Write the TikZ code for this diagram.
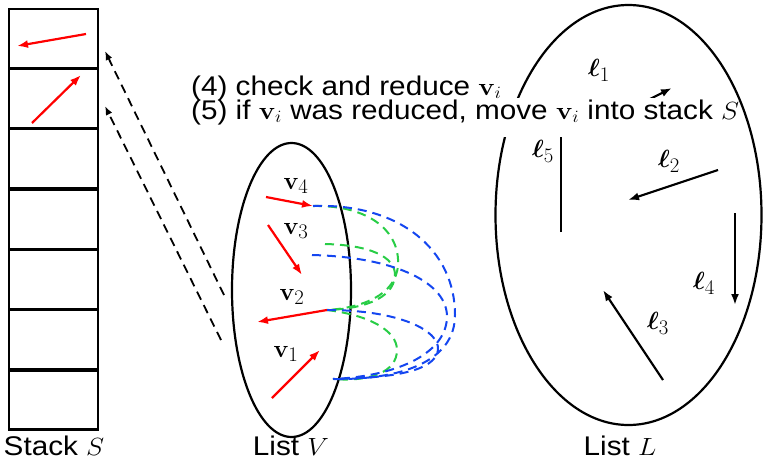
\documentclass[tikz,border=0pt]{standalone}
\usepackage{bm}
\usepackage[no-math]{fontspec}
\setmainfont{Liberation Sans}
\usetikzlibrary{arrows.meta,shapes.geometric}

\newcommand{\wide}[1]{\scalebox{1.1}[1]{#1}}

\tikzset{
  cell/.style={draw, line width=2.2pt, minimum width=89pt, minimum height=59pt, inner sep=0pt},
  vec/.style={red, line width=2.2pt, -{Latex[length=11pt,width=8pt]}},
  lvec/.style={black, line width=2.2pt, -{Latex[length=11pt,width=8pt]}},
  move/.style={black, line width=1.8pt, dash pattern=on 9pt off 6pt, -{Latex[length=9pt,width=7pt]}},
  bluelink/.style={draw={rgb,255:red,20;green,70;blue,240}, line width=2pt, dash pattern=on 9pt off 6pt},
  greenlink/.style={draw={rgb,255:red,40;green,205;blue,70}, line width=2pt, dash pattern=on 9pt off 6pt},
  set/.style={draw, ellipse, line width=2.2pt, inner sep=0pt},
  lab/.style={font=\fontsize{27}{27}\selectfont, inner sep=0pt},
  vlab/.style={font=\fontsize{28}{28}\selectfont, inner sep=0pt},
}

\begin{document}
\begin{tikzpicture}[x=1pt, y=-1pt]
\useasboundingbox (0,0) rectangle (763,461);

% Stack S
\foreach \k/\yc in {1/38.2, 2/98.5, 3/158.8, 4/219.1, 5/279.4, 6/339.7, 7/400}
  \node[cell] (s\k) at (53.5,\yc) {};
\coordinate (a1) at (86,34);  \coordinate (b1) at (17,46);
\coordinate (a2) at (32,123); \coordinate (b2) at (81,75);
\draw[vec] (a1) -- (b1);
\draw[vec] (a2) -- (b2);
\node[lab, anchor=base] (labS) at (54,455) {\wide{Stack $S$}};

% moving reduced vectors into the stack
\coordinate (m1) at (224,295); \coordinate (t1) at (105,51);
\coordinate (m2) at (221,340); \coordinate (t2) at (105,106);
\draw[move] (m1) -- (t1);
\draw[move] (m2) -- (t2);

% List V
\node[set, minimum width=119pt, minimum height=294pt] (listV) at (291.5,290) {};
\node[lab, anchor=base] (labV) at (291,455) {\wide{List $V$}};

\coordinate (v4s) at (266,197); \coordinate (v4e) at (313,206);
\coordinate (v3s) at (268,225); \coordinate (v3e) at (302,275);
\coordinate (v2s) at (327,310); \coordinate (v2e) at (257,322);
\coordinate (v1s) at (272,398); \coordinate (v1e) at (320,350);
\coordinate (p3) at (312,255);  \coordinate (q3) at (325,244);
\coordinate (p1) at (333,379);

% pairwise reductions
\draw[greenlink] (v4e) .. controls (370,205) and (400,232) .. (398,265)
                       .. controls (396,296) and (360,308) .. (v2s);
\draw[greenlink] (q3) .. controls (368,245) and (396,256) .. (395,276)
                      .. controls (393,300) and (360,309) .. (v2s);
\draw[greenlink] (v2s) .. controls (368,315) and (397,330) .. (397,350)
                       .. controls (397,372) and (370,382) .. (p1);
\draw[bluelink] (v4e) .. controls (400,203) and (455,250) .. (455,315)
                      .. controls (455,362) and (400,380) .. (p1);
\draw[bluelink] (p3) .. controls (390,257) and (445,280) .. (447,315)
                     .. controls (448,352) and (400,376) .. (p1);
\draw[bluelink] (v2s) .. controls (398,310) and (440,330) .. (438,350)
                      .. controls (435,372) and (390,378) .. (p1);

\draw[vec] (v4s) -- (v4e);
\draw[vec] (v3s) -- (v3e);
\draw[vec] (v2s) -- (v2e);
\draw[vec] (v1s) -- (v1e);
\node[vlab] (nv4) at (296,186) {$\mathbf{v}_4$};
\node[vlab] (nv3) at (296,231) {$\mathbf{v}_3$};
\node[vlab] (nv2) at (292,297) {$\mathbf{v}_2$};
\node[vlab] (nv1) at (286,354) {$\mathbf{v}_1$};

% List L
\node[set, minimum width=266pt, minimum height=420pt] (listL) at (628.5,215) {};
\node[lab, anchor=base] (labL) at (620,455) {\wide{List $L$}};

\coordinate (l1s) at (612,118); \coordinate (l1e) at (672,88);
\coordinate (l2s) at (718,170); \coordinate (l2e) at (628,200);
\coordinate (l3s) at (663,380); \coordinate (l3e) at (603,290);
\coordinate (l4s) at (735,213); \coordinate (l4e) at (735,305);
\coordinate (l5s) at (561,232); \coordinate (l5e) at (561,108);
\draw[lvec] (l1s) -- (l1e);
\draw[lvec] (l2s) -- (l2e);
\draw[lvec] (l3s) -- (l3e);
\draw[lvec] (l4s) -- (l4e);
\draw[lvec] (l5s) -- (l5e);
\node[vlab] (nl1) at (599,70)  {$\bm{\ell}_1$};
\node[vlab] (nl2) at (669,161) {$\bm{\ell}_2$};
\node[vlab] (nl3) at (658,323) {$\bm{\ell}_3$};
\node[vlab] (nl4) at (704,283) {$\bm{\ell}_4$};
\node[vlab] (nl5) at (543,151) {$\bm{\ell}_5$};

% steps (4) and (5)
\fill[white] (178,98) rectangle (727,137);
\node[lab, anchor=base west] (step4) at (191,95) {\wide{(4) check and reduce $\mathbf{v}_i$}};
\node[lab, anchor=base west] (step5) at (191,119) {\wide{(5) if $\mathbf{v}_i$ was reduced, move $\mathbf{v}_i$ into stack $S$}};
\end{tikzpicture}
\end{document}
